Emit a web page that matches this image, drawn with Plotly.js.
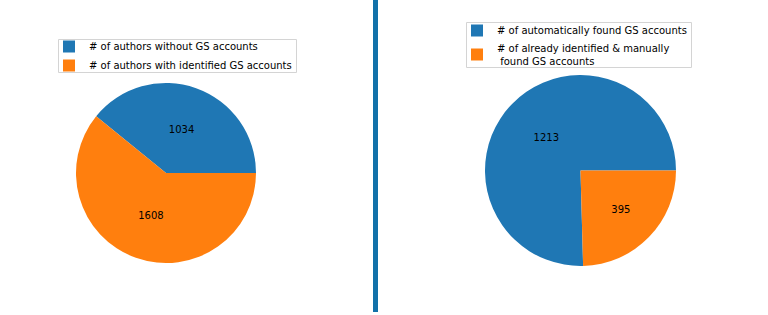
<!DOCTYPE html>
<html><head><meta charset="utf-8">
<script src="https://cdn.plot.ly/plotly-3.0.1.min.js"></script>
<style>html,body{margin:0;padding:0;background:#fff;}#chart{width:768px;height:315px;}</style>
</head><body><div id="chart"></div>
<script>
const leftLabels = ["# of authors without GS accounts", "# of authors with identified GS accounts"];
const leftValues = [1034, 1608];
const rightLabels = ["# of automatically found GS accounts", "# of already identified & manually<br> found GS accounts"];
const rightValues = [1213, 395];
const colors = ["#1f77b4", "#ff7f0e"];

const W = 768, H = 315;
const font = {family: "DejaVu Sans", size: 10, color: "#000"};
const sum = a => a.reduce((s, v) => s + v, 0);
// first slice starts at 3 o'clock and runs counterclockwise (Plotly rotation is clockwise degrees from 12 o'clock)
const rotFor = vals => 90 - 360 * vals[0] / sum(vals);

const traces = [
  {type: "pie", labels: leftLabels, values: leftValues, sort: false,
   direction: "counterclockwise", rotation: rotFor(leftValues),
   marker: {colors: colors, line: {width: 0}},
   textinfo: "value", textposition: "inside", insidetextorientation: "horizontal",
   textfont: font, hoverinfo: "label+value",
   domain: {x: [76/W, 256/W], y: [52/H, 232/H]}, legend: "legend"},
  {type: "pie", labels: rightLabels, values: rightValues, sort: false,
   direction: "counterclockwise", rotation: rotFor(rightValues),
   marker: {colors: colors, line: {width: 0}},
   textinfo: "value", textposition: "inside", insidetextorientation: "horizontal",
   textfont: font, hoverinfo: "label+value",
   domain: {x: [485/W, 676/W], y: [49/H, 240/H]}, legend: "legend2"}
];

function frame(x0, y0, x1, y1) {
  return {type: "rect", xref: "paper", yref: "paper", layer: "above",
          x0: x0/W, x1: x1/W, y0: 1 - y1/H, y1: 1 - y0/H,
          line: {color: "#d4d4d4", width: 1}, fillcolor: "rgba(255,255,255,0.8)"};
}

const layout = {
  width: W, height: H,
  margin: {l: 0, r: 0, t: 0, b: 0},
  paper_bgcolor: "#fff",
  font: font,
  showlegend: true,
  legend: {x: 49/W, y: 1 - 32/H, xanchor: "left", yanchor: "top",
           borderwidth: 0, bgcolor: "rgba(0,0,0,0)",
           font: font, tracegroupgap: 0},
  legend2: {x: 457/W, y: 1 - 16/H, xanchor: "left", yanchor: "top",
            borderwidth: 0, bgcolor: "rgba(0,0,0,0)",
            font: font, tracegroupgap: 0},
  shapes: [
    frame(58.5, 39.5, 296.5, 72.5),
    frame(466.5, 22.5, 691.5, 67.5),
    {type: "line", xref: "paper", yref: "paper", x0: 375.5/W, x1: 375.5/W, y0: 1.02, y1: 3/H,
     line: {color: "#1271a9", width: 5}}
  ]
};

Plotly.newPlot("chart", traces, layout, {displayModeBar: false, staticPlot: true});
</script></body></html>
